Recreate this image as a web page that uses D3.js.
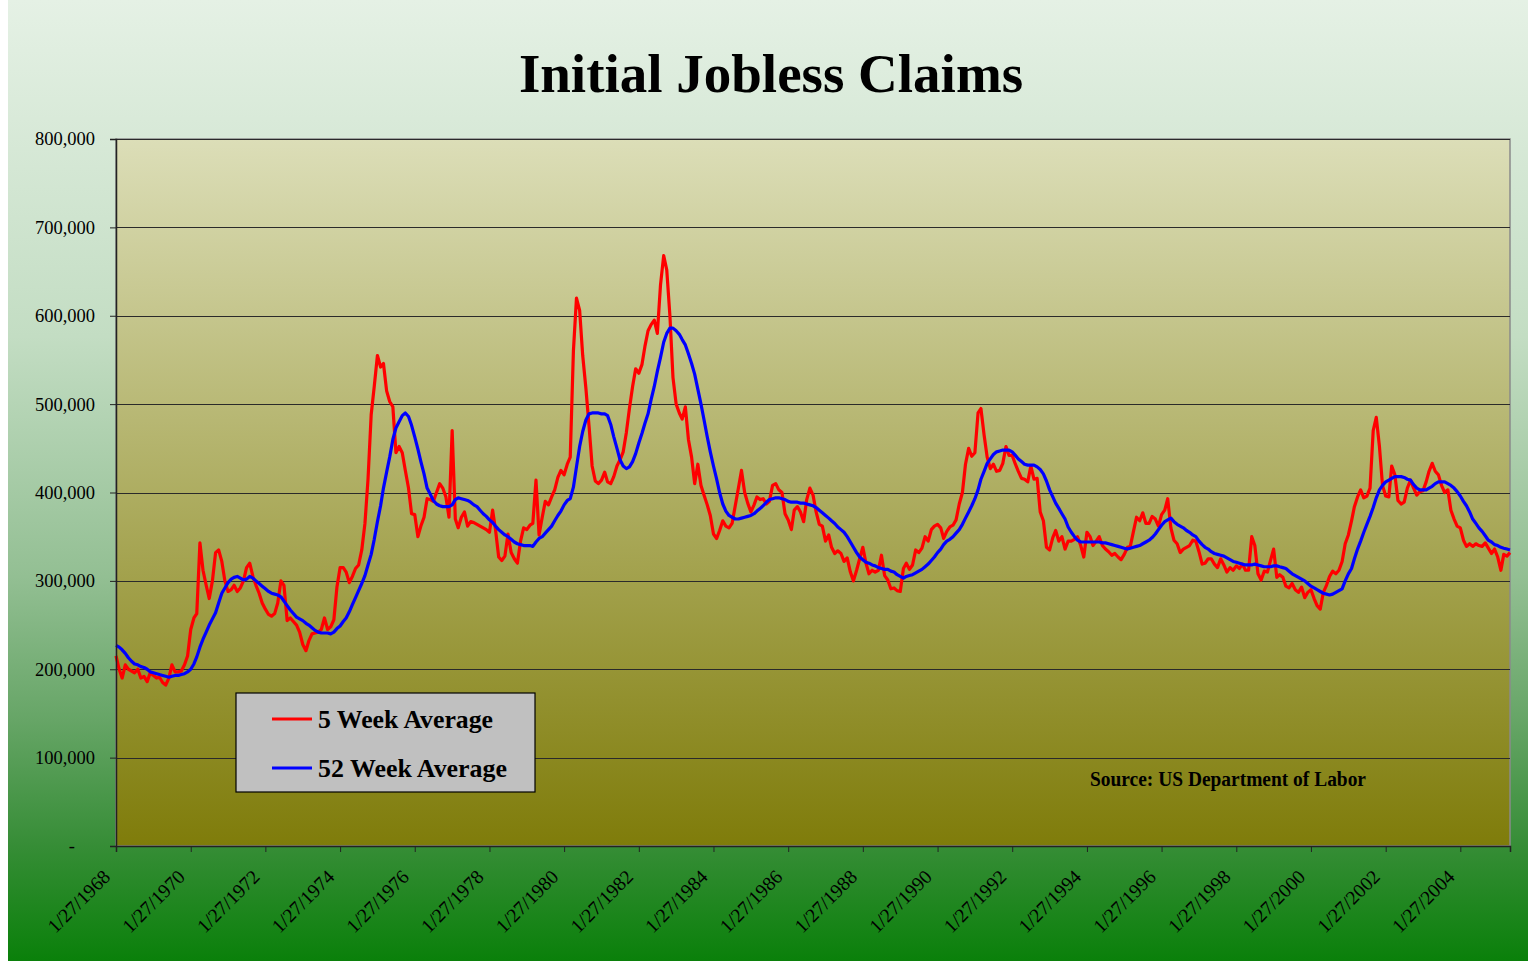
<!DOCTYPE html>
<html>
<head>
<meta charset="utf-8">
<script src="https://cdn.jsdelivr.net/npm/d3@7"></script>
<style>
  html, body { margin: 0; padding: 0; background: #fff; }
  svg { display: block; }
  text { font-family: "Liberation Serif", "Times New Roman", serif; }
</style>
</head>
<body>
<svg id="chart"></svg>
<script>
var startDate = new Date(1968, 0, 27);

var fiveWeek = [
  215,200,190,205,200,198,196,200,190,192,186,196,
  193,190,191,185,182,190,205,197,197,198,205,215,
  245,258,263,343,312,295,280,300,332,335,322,300,
  288,290,295,288,292,300,315,320,305,295,286,275,
  268,262,260,263,275,300,295,255,258,254,250,242,
  228,221,232,240,241,242,245,258,245,248,256,293,
  315,315,310,298,305,314,318,335,365,415,488,520,
  555,542,546,515,503,497,445,452,445,425,405,376,
  375,350,362,372,393,392,390,400,410,405,395,372,
  470,370,360,372,378,362,367,366,364,362,360,358,
  355,380,358,327,323,328,353,332,325,320,345,360,
  358,363,365,414,352,372,390,386,395,403,417,425,
  420,432,440,560,620,606,555,518,475,430,413,410,
  414,423,412,410,418,430,437,446,468,495,520,540,
  535,545,565,583,590,595,580,635,668,652,600,530,
  500,490,483,497,460,440,410,432,408,397,386,374,
  353,348,357,368,362,360,365,385,405,425,400,388,
  378,386,395,392,393,387,390,408,410,403,400,376,
  369,358,380,384,378,367,392,405,397,378,364,362,
  345,352,338,331,334,331,322,326,310,300,312,325,
  338,320,308,312,310,312,329,306,301,291,292,289,
  288,314,320,313,318,335,332,337,350,345,358,362,
  364,360,348,356,361,363,369,387,400,432,450,441,
  445,490,495,465,440,427,432,424,425,433,452,442,
  442,432,424,416,415,412,430,415,416,378,368,338,
  335,349,357,345,350,336,345,345,347,350,340,327,
  355,350,340,345,350,340,336,333,329,331,327,324,
  330,338,339,356,372,368,377,365,365,373,370,362,
  375,380,393,360,346,342,332,336,338,340,346,345,
  333,319,320,325,325,319,315,325,318,310,315,312,
  317,314,319,312,312,350,340,308,301,311,310,323,
  336,304,307,304,294,292,297,290,287,293,281,287,
  290,280,272,268,287,295,305,311,308,312,322,342,
  352,368,384,395,403,394,396,405,470,485,452,408,
  396,395,430,420,391,387,389,405,414,405,397,401,
  402,412,424,433,424,420,408,400,403,380,370,362,
  360,346,339,342,339,342,340,339,343,337,331,336,
  327,312,330,328,332
];

var fiftyTwoWeek = [
  227,225,222,218,213,209,206,205,203,202,200,197,
  196,195,194,193,192,191,192,193,193,194,195,197,
  200,206,214,225,234,242,250,257,264,275,286,292,
  298,302,304,305,303,301,302,305,303,300,297,294,
  291,288,286,285,284,282,277,272,267,263,259,257,
  255,252,250,247,244,242,241,241,241,240,242,246,
  249,254,258,265,273,281,289,297,306,318,330,347,
  367,385,405,423,440,460,473,480,487,490,486,476,
  463,449,435,421,405,398,391,387,385,384,384,384,
  386,392,394,393,392,391,389,386,384,380,376,373,
  369,366,362,358,355,352,350,347,344,342,341,340,
  340,340,339,344,348,350,354,358,362,368,374,379,
  386,391,393,406,429,452,469,482,489,490,490,490,
  489,489,487,477,463,450,437,430,427,429,435,444,
  456,467,478,489,505,520,537,553,570,580,586,586,
  583,579,573,567,557,546,534,517,500,482,463,446,
  430,415,400,387,379,374,372,370,370,371,372,373,
  374,376,379,382,385,389,392,393,394,394,393,392,
  390,389,389,389,388,388,387,386,385,383,380,377,
  374,371,368,365,361,358,355,350,344,338,332,327,
  324,321,320,318,317,315,314,313,313,311,310,307,
  305,303,305,306,307,309,311,313,316,319,323,327,
  332,336,341,345,347,350,354,358,364,371,378,385,
  393,403,415,424,433,438,443,446,447,448,448,448,
  446,442,438,435,432,431,431,431,429,426,421,413,
  403,395,388,382,376,370,361,355,350,346,344,344,
  344,344,344,344,344,343,343,342,341,340,339,338,
  337,336,337,338,339,340,342,344,346,349,353,358,
  363,367,369,371,367,364,362,360,357,355,352,350,
  345,341,338,336,333,331,330,329,328,326,324,322,
  321,320,319,318,318,318,319,318,317,316,316,316,
  317,317,316,315,314,311,308,306,304,302,300,297,
  294,292,290,288,286,285,284,285,287,289,291,300,
  308,314,325,336,345,355,364,373,383,394,403,408,
  412,414,416,418,418,418,417,415,414,409,405,403,
  403,403,405,407,410,412,412,412,410,408,405,401,
  396,390,385,378,370,365,360,356,351,346,344,341,
  340,338,337,336,335
];

var yTicks = [0, 100000, 200000, 300000, 400000, 500000, 600000, 700000, 800000];
var tickYears = [1968, 1970, 1972, 1974, 1976, 1978, 1980, 1982, 1984,
                 1986, 1988, 1990, 1992, 1994, 1996, 1998, 2000, 2002, 2004];
var seriesNames = ["5 Week Average", "52 Week Average"];
var seriesColors = ["#ff0000", "#0000ff"];

var width = 1528, height = 961;
var plot = {left: 116, right: 1510, top: 139, bottom: 846};

var svg = d3.select("#chart")
  .attr("width", width)
  .attr("height", height);

var defs = svg.append("defs");

var bgGrad = defs.append("linearGradient")
  .attr("id", "bgGrad")
  .attr("x1", 0).attr("y1", 0).attr("x2", 0).attr("y2", 1);
[[0, "#e5f1e5"], [0.35, "#c3ddc3"], [0.6, "#93bf93"], [0.75, "#66a566"],
 [0.88, "#368d36"], [1, "#0a800a"]].forEach(function (s) {
  bgGrad.append("stop").attr("offset", s[0]).attr("stop-color", s[1]);
});

var plotGrad = defs.append("linearGradient")
  .attr("id", "plotGrad")
  .attr("x1", 0).attr("y1", 0).attr("x2", 0).attr("y2", 1);
plotGrad.append("stop").attr("offset", 0).attr("stop-color", "#dcdeb8");
plotGrad.append("stop").attr("offset", 1).attr("stop-color", "#7f7c0a");

svg.append("rect")
  .attr("x", 8).attr("y", 0)
  .attr("width", width - 8).attr("height", height)
  .attr("fill", "url(#bgGrad)");

svg.append("rect")
  .attr("x", plot.left).attr("y", plot.top)
  .attr("width", plot.right - plot.left).attr("height", plot.bottom - plot.top)
  .attr("fill", "url(#plotGrad)")
  .attr("stroke", "#8a8a8a")
  .attr("stroke-width", 1.5);

var fiveData = fiveWeek.map(function (v, i) {
  return {date: d3.timeMonth.offset(startDate, i), value: v * 1000};
});
var longData = fiftyTwoWeek.map(function (v, i) {
  return {date: d3.timeMonth.offset(startDate, i), value: v * 1000};
});

var x = d3.scaleTime()
  .domain([startDate, d3.timeMonth.offset(startDate, fiveWeek.length - 1)])
  .range([plot.left, plot.right]);

var y = d3.scaleLinear()
  .domain([0, 800000])
  .range([plot.bottom, plot.top]);

// gridlines
svg.append("g")
  .selectAll("line")
  .data(yTicks.slice(1))
  .enter().append("line")
  .attr("x1", plot.left).attr("x2", plot.right)
  .attr("y1", function (d) { return Math.round(y(d)) + 0.5; })
  .attr("y2", function (d) { return Math.round(y(d)) + 0.5; })
  .attr("stroke", "#2a2a2a")
  .attr("stroke-width", 1);

var line = d3.line()
  .x(function (d) { return x(d.date); })
  .y(function (d) { return y(d.value); });

svg.append("path")
  .datum(fiveData)
  .attr("fill", "none")
  .attr("stroke", seriesColors[0])
  .attr("stroke-width", 3.2)
  .attr("stroke-linejoin", "round")
  .attr("d", line);

svg.append("path")
  .datum(longData)
  .attr("fill", "none")
  .attr("stroke", seriesColors[1])
  .attr("stroke-width", 3.2)
  .attr("stroke-linejoin", "round")
  .attr("d", line);

// y axis
var fmt = d3.format(",");
var yAxis = svg.append("g")
  .attr("transform", "translate(" + plot.left + ",0)")
  .call(d3.axisLeft(y)
    .tickValues(yTicks)
    .tickSize(6)
    .tickPadding(15)
    .tickFormat(function (d) { return d === 0 ? "-" : fmt(d); }));
yAxis.select(".domain").attr("stroke", "#222").attr("stroke-width", 1.5);
yAxis.selectAll(".tick line").attr("stroke", "#222");
yAxis.selectAll(".tick text")
  .attr("font-family", "Liberation Serif, serif")
  .attr("font-size", 18.5)
  .attr("fill", "#000")
  .attr("dx", function (d) { return d === 0 ? -20 : 0; });

// x axis
var tickDates = tickYears.map(function (yr) { return new Date(yr, 0, 27); });
var xAxis = svg.append("g")
  .attr("transform", "translate(0," + plot.bottom + ")")
  .call(d3.axisBottom(x)
    .tickValues(tickDates)
    .tickSize(6)
    .tickFormat(d3.timeFormat("%-m/%d/%Y")));
xAxis.select(".domain").attr("stroke", "#222").attr("stroke-width", 1.5);
xAxis.selectAll(".tick line").attr("stroke", "#222");
xAxis.selectAll(".tick text")
  .attr("font-family", "Liberation Serif, serif")
  .attr("font-size", 19.5)
  .attr("fill", "#000")
  .attr("text-anchor", "end")
  .attr("x", 0).attr("y", 0).attr("dy", 0)
  .attr("transform", "translate(-5,32) rotate(-45)");

// title
svg.append("text")
  .attr("x", 771).attr("y", 92)
  .attr("text-anchor", "middle")
  .attr("font-size", 55)
  .attr("font-weight", "bold")
  .text("Initial Jobless Claims");

// legend
var legend = svg.append("g").attr("transform", "translate(236,693)");
legend.append("rect")
  .attr("width", 299).attr("height", 99)
  .attr("fill", "#c0c0c0")
  .attr("stroke", "#000")
  .attr("stroke-width", 1.2);
var legendWidths = [175, 189];
seriesNames.forEach(function (name, i) {
  var row = legend.append("g").attr("transform", "translate(0," + (26 + i * 49) + ")");
  row.append("line")
    .attr("x1", 36).attr("x2", 76)
    .attr("stroke", seriesColors[i])
    .attr("stroke-width", 3);
  row.append("text")
    .attr("x", 82).attr("y", 8.5)
    .attr("font-size", 25)
    .attr("font-weight", "bold")
    .attr("textLength", legendWidths[i])
    .attr("lengthAdjust", "spacingAndGlyphs")
    .text(name);
});

svg.append("text")
  .attr("x", 1090).attr("y", 786)
  .attr("font-size", 20)
  .attr("font-weight", "bold")
  .attr("textLength", 276)
  .attr("lengthAdjust", "spacingAndGlyphs")
  .text("Source: US Department of Labor");
</script>
</body>
</html>
